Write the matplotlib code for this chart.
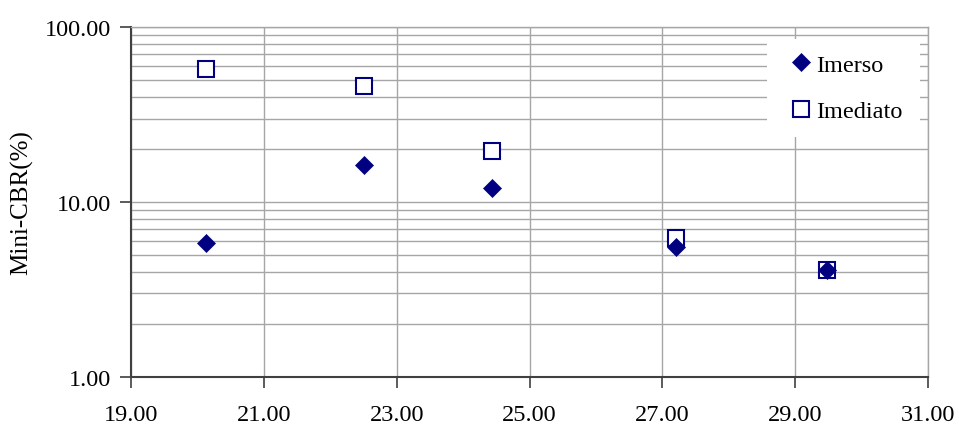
import matplotlib
matplotlib.use("Agg")
import matplotlib.pyplot as plt
from matplotlib.patches import Rectangle
from matplotlib.ticker import FixedLocator, LogLocator, FormatStrFormatter, NullFormatter

plt.rcParams['font.family'] = ['Liberation Serif', 'DejaVu Serif']

# Moisture content (%) vs Mini-CBR (%)
umidade = [20.13, 22.51, 24.44, 27.21, 29.48]
cbr_imerso = [5.85, 16.3, 12.0, 5.55, 4.08]
cbr_imediato = [57.5, 46.0, 19.5, 6.25, 4.08]

x_ticks = [19.0, 21.0, 23.0, 25.0, 27.0, 29.0, 31.0]
y_ticks = [1.0, 10.0, 100.0]

navy = '#000080'
grid_c = '#a6a6a6'
fs = 17.5

fig = plt.figure(figsize=(9.59, 4.27), dpi=100)
ax = fig.add_axes([0.1366, 0.1148, 0.8311, 0.8196])

ax.set_yscale('log')
ax.set_xlim(x_ticks[0], x_ticks[-1])
ax.set_ylim(y_ticks[0], y_ticks[-1])

ax.xaxis.set_major_locator(FixedLocator(x_ticks))
ax.yaxis.set_major_locator(FixedLocator(y_ticks))
ax.yaxis.set_minor_locator(LogLocator(base=10, subs=range(2, 10)))
ax.yaxis.set_minor_formatter(NullFormatter())
ax.xaxis.set_major_formatter(FormatStrFormatter('%.2f'))
ax.yaxis.set_major_formatter(FormatStrFormatter('%.2f'))

ax.grid(True, which='major', axis='both', color=grid_c, lw=1.0)
ax.grid(True, which='minor', axis='y', color=grid_c, lw=1.0)
ax.set_axisbelow(True)

ax.tick_params(axis='both', which='major', direction='out', length=8, width=1.2,
               color='#404040', labelsize=fs)
ax.tick_params(axis='x', which='major', pad=11.5)
ax.tick_params(axis='y', which='major', pad=6)
ax.tick_params(axis='y', which='minor', length=0)

for side in ('left', 'bottom'):
    ax.spines[side].set_color('#404040')
    ax.spines[side].set_linewidth(1.5)
for side in ('top', 'right'):
    ax.spines[side].set_color(grid_c)
    ax.spines[side].set_linewidth(1.0)

ax.plot(umidade, cbr_imediato, linestyle='none', marker='s', ms=12,
        mfc='white', mec=navy, mew=1.5, label='Imediato', zorder=3)
ax.plot(umidade, cbr_imerso, linestyle='none', marker='D', ms=9.5,
        mfc=navy, mec=navy, mew=0.5, label='Imerso', zorder=4)

ax.set_ylabel('Mini-CBR(%)', fontsize=18, labelpad=9)

# white panel behind the legend, covering the grid
ax.add_patch(Rectangle((0.798, 0.686), 0.192, 0.28, transform=ax.transAxes,
                       facecolor='white', edgecolor='none', zorder=5))

h, l = ax.get_legend_handles_labels()
leg = ax.legend([h[1], h[0]], [l[1], l[0]], loc='upper left',
                bbox_to_anchor=(0.829, 0.923), fontsize=fs, frameon=False,
                handlelength=0.8, handletextpad=0.2, labelspacing=1.0,
                borderpad=0, borderaxespad=0)
leg.set_zorder(6)

fig.savefig('out.png', dpi=100, facecolor='white')
